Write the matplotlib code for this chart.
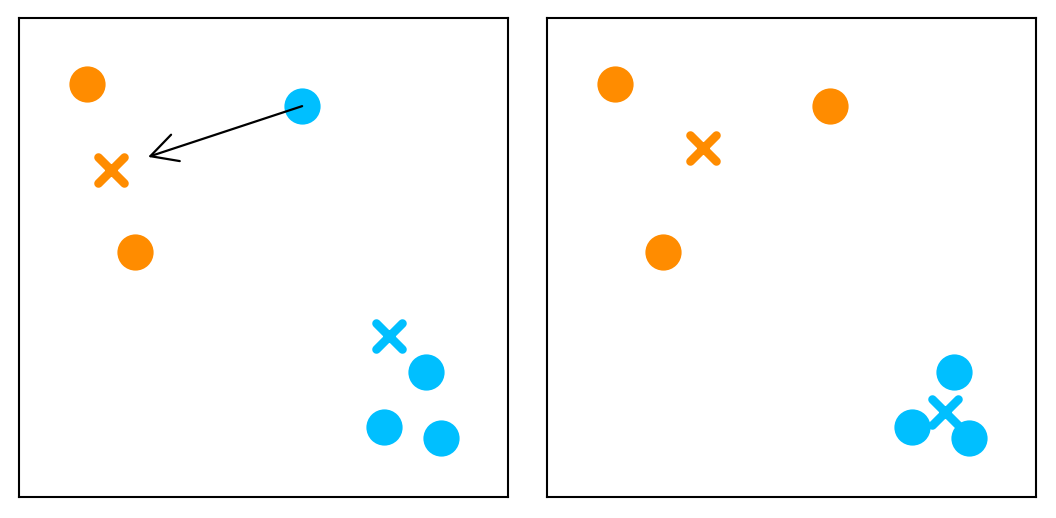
import matplotlib
matplotlib.use("Agg")
import matplotlib.pyplot as plt
from matplotlib.markers import MarkerStyle

# Data points (axes-fraction coordinates, 0..1)
orange_x = [0.139, 0.237]
orange_y = [0.862, 0.511]
moving_x = [0.579]
moving_y = [0.816]
blue_x = [0.832, 0.746, 0.863]
blue_y = [0.261, 0.146, 0.123]

# Centroids before (left) and after (right) reassignment
left_centroid_orange = (0.188, 0.683)
left_centroid_blue = (0.757, 0.336)
right_centroid_orange = (0.319, 0.729)
right_centroid_blue = (0.814, 0.177)

arrow_end = (0.264, 0.710)

ORANGE = "#FF8C00"
BLUE = "#00BFFF"

W, H = 1056, 518
fig = plt.figure(figsize=(W / 100, H / 100), dpi=100)
ax_left = fig.add_axes([19 / W, (H - 497) / H, 489 / W, 479 / H])
ax_right = fig.add_axes([547 / W, (H - 497) / H, 489 / W, 479 / H])

def setup(ax):
    ax.set_xlim(0, 1)
    ax.set_ylim(0, 1)
    ax.set_xticks([])
    ax.set_yticks([])
    for sp in ax.spines.values():
        sp.set_linewidth(1.5)
        sp.set_color("black")

XM = MarkerStyle("x", capstyle="round")
S = 680
for ax in (ax_left, ax_right):
    setup(ax)
    ax.scatter(orange_x, orange_y, s=S, color=ORANGE, linewidths=0, zorder=3)
    ax.scatter(blue_x, blue_y, s=S, color=BLUE, linewidths=0, zorder=3)

def centroid(ax, c, color):
    ax.plot(*c, marker=XM, ms=19, mew=6.2, color=color, zorder=4)

# Left: moving point still blue
ax_left.scatter(moving_x, moving_y, s=S, color=BLUE, linewidths=0, zorder=3)
centroid(ax_left, left_centroid_orange, ORANGE)
centroid(ax_left, left_centroid_blue, BLUE)
ax_left.annotate("", xy=arrow_end, xytext=(moving_x[0], moving_y[0]),
                 arrowprops=dict(arrowstyle="->,head_length=1.9,head_width=1.0",
                                 color="black", lw=1.6, shrinkA=0, shrinkB=0),
                 zorder=5)

# Right: moving point reassigned to orange
ax_right.scatter(moving_x, moving_y, s=S, color=ORANGE, linewidths=0, zorder=3)
centroid(ax_right, right_centroid_orange, ORANGE)
centroid(ax_right, right_centroid_blue, BLUE)

fig.savefig("out.png", dpi=100)
